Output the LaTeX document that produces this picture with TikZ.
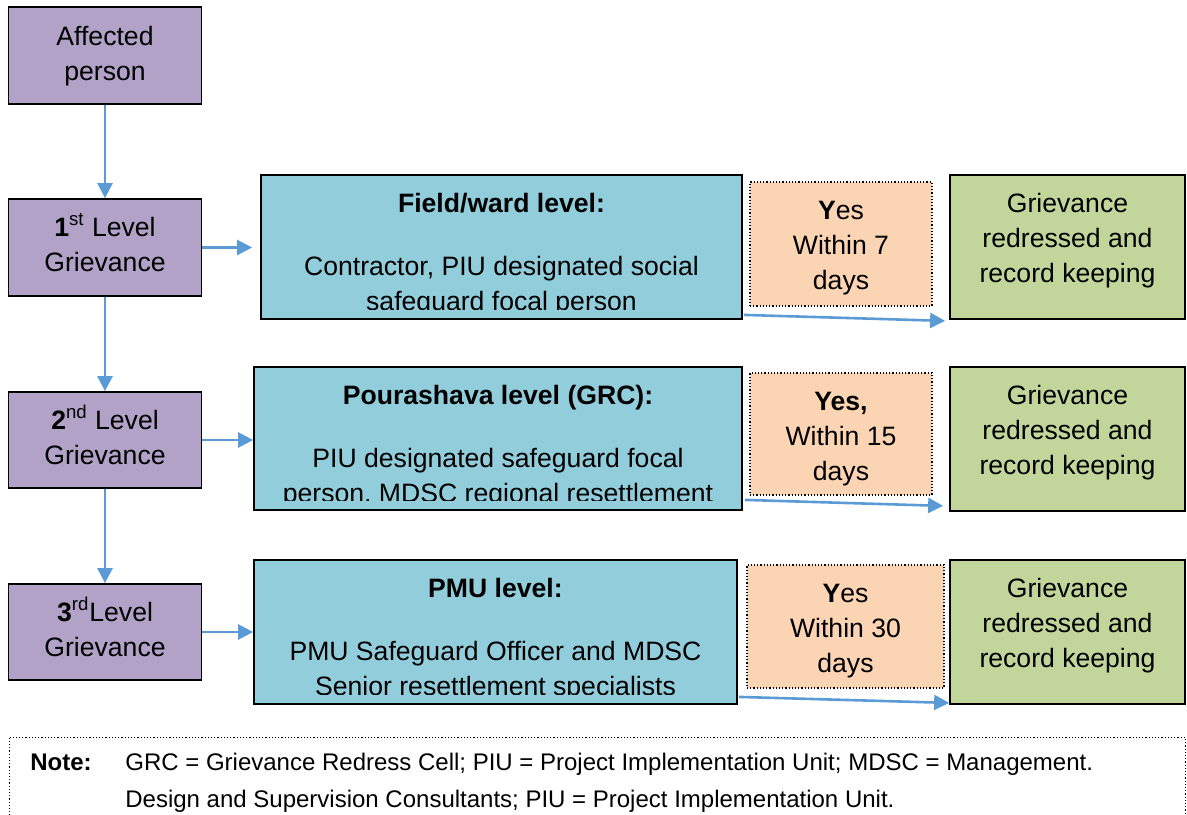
\documentclass[tikz,border=0pt]{standalone}
\usepackage{fontspec}
\setmainfont{Liberation Sans}
\usetikzlibrary{arrows.meta,calc}

\definecolor{mauve}{HTML}{B2A2C7}
\definecolor{bleuclair}{HTML}{92CDDC}
\definecolor{peche}{HTML}{FBD4B4}
\definecolor{vertolive}{HTML}{C2D69B}
\definecolor{bleufleche}{HTML}{5B9BD5}

\newcommand{\boitefont}{\fontsize{13.3}{17.5}\selectfont}
\newcommand{\notefont}{\fontsize{12}{17}\selectfont}

\tikzset{
  boite/.style={draw=black, line width=0.9pt, inner sep=0pt},
  pointille/.style={draw=black, densely dotted, line width=0.6pt, inner sep=0pt},
  texte/.style={align=center, inner sep=0pt, anchor=north, yshift=-6.5pt, font=\boitefont},
  fleche/.style={draw=bleufleche, line width=1.3pt, -{Triangle[length=7.5pt,width=7.5pt]}}
}

\begin{document}
\begin{tikzpicture}[x=0.5pt,y=-0.5pt]

\clip (0,0) rectangle (1187,814);

% Colonne de gauche (niveaux)
\node[boite, fill=mauve, minimum width=96.5pt, minimum height=48.5pt] (ap) at (105,55.5) {};
\node[boite, fill=mauve, minimum width=96.5pt, minimum height=48.5pt] (n1) at (105,247.5) {};
\node[boite, fill=mauve, minimum width=96.5pt, minimum height=48pt] (n2) at (105,440) {};
\node[boite, fill=mauve, minimum width=96.5pt, minimum height=48pt] (n3) at (105,632) {};

\node[texte, yshift=-0.5pt] (ap-t) at (ap.north) {\strut Affected\\person};
\node[texte] (n1-t) at (n1.north) {\strut\textbf{1}\textsuperscript{st} Level\\Grievance};
\node[texte] (n2-t) at (n2.north) {\strut\textbf{2}\textsuperscript{nd} Level\\Grievance};
\node[texte] (n3-t) at (n3.north) {\strut\textbf{3}\textsuperscript{rd}Level\\Grievance};

% Boîtes bleues (responsables)
\node[boite, fill=bleuclair, minimum width=240.5pt, minimum height=72pt] (f1) at (501.5,247) {};
\node[boite, fill=bleuclair, minimum width=244pt, minimum height=71.5pt] (f2) at (498,438.5) {};
\node[boite, fill=bleuclair, minimum width=241.5pt, minimum height=72pt] (f3) at (495.5,632) {};

\begin{scope}
\clip (f1.north west) rectangle ($(f1.south east)+(0,-10)$);
\node[texte] (f1-t) at (f1.north) {\strut\textbf{Field/ward level:}\\[14pt]Contractor, PIU designated social\\safeguard focal person};
\end{scope}
\begin{scope}
\clip (f2.north west) rectangle ($(f2.south east)+(0,-10)$);
\node[texte] (f2-t) at (f2.north) {\strut\textbf{Pourashava level (GRC):}\\[14pt]PIU designated safeguard focal\\person, MDSC regional resettlement};
\end{scope}
\begin{scope}
\clip (f3.north west) rectangle ($(f3.south east)+(0,-10)$);
\node[texte] (f3-t) at (f3.north) {\strut\textbf{PMU level:}\\[14pt]PMU Safeguard Officer and MDSC\\Senior resettlement specialists};
\end{scope}

% Délais (Yes)
\node[pointille, fill=peche, minimum width=91pt, minimum height=62pt] (y1) at (841,244) {};
\node[pointille, fill=peche, minimum width=91pt, minimum height=61pt] (y2) at (841,434) {};
\node[pointille, fill=peche, minimum width=98.5pt, minimum height=61.5pt] (y3) at (845.5,626.5) {};

\node[texte] (y1-t) at (y1.north) {\strut\textbf{Y}es\\Within 7\\days};
\node[texte] (y2-t) at (y2.north) {\strut\textbf{Yes,}\\Within 15\\days};
\node[texte] (y3-t) at (y3.north) {\strut\textbf{Y}es\\Within 30\\days};

% Boîtes vertes (résultat)
\node[boite, fill=vertolive, minimum width=117.5pt, minimum height=72pt] (g1) at (1067.5,247) {};
\node[boite, fill=vertolive, minimum width=117.5pt, minimum height=72pt] (g2) at (1067.5,439) {};
\node[boite, fill=vertolive, minimum width=117.5pt, minimum height=72pt] (g3) at (1067.5,632) {};

\node[texte] (g1-t) at (g1.north) {\strut Grievance\\redressed and\\record keeping};
\node[texte] (g2-t) at (g2.north) {\strut Grievance\\redressed and\\record keeping};
\node[texte] (g3-t) at (g3.north) {\strut Grievance\\redressed and\\record keeping};

% Flèches verticales
\draw[fleche] (ap.south) -- (n1.north);
\draw[fleche] (n1.south) -- (n2.north);
\draw[fleche] (n2.south) -- (n3.north);

% Flèches horizontales
\draw[fleche, shorten >=4pt] (n1.east) -- (n1.east -| f1.west);
\draw[fleche] (n2.east) -- (n2.east -| f2.west);
\draw[fleche] (n3.east) -- (n3.east -| f3.west);

% Flèches vers les boîtes vertes
\draw[fleche] ($(f1.south east)+(1,-5)$) -- ($(g1.south west)+(-4,1)$);
\draw[fleche] ($(f2.south east)+(2,-11)$) -- ($(g2.south west)+(-6,-6)$);
\draw[fleche] ($(f3.south east)+(1,-8)$) -- ($(g3.south west)+(0,-2)$);

% Note en bas
\draw[pointille] (9.5,737.5) rectangle (1185.5,850);
\node[anchor=base west, inner sep=0pt, font=\notefont\bfseries] (note) at (30,770) {Note:};
\node[anchor=base west, inner sep=0pt, font=\notefont] (note-l1) at (125,770) {GRC = Grievance Redress Cell; PIU = Project Implementation Unit; MDSC = Management.};
\node[anchor=base west, inner sep=0pt, font=\notefont] (note-l2) at (125,807) {Design and Supervision Consultants; PIU = Project Implementation Unit.};

\end{tikzpicture}
\end{document}
